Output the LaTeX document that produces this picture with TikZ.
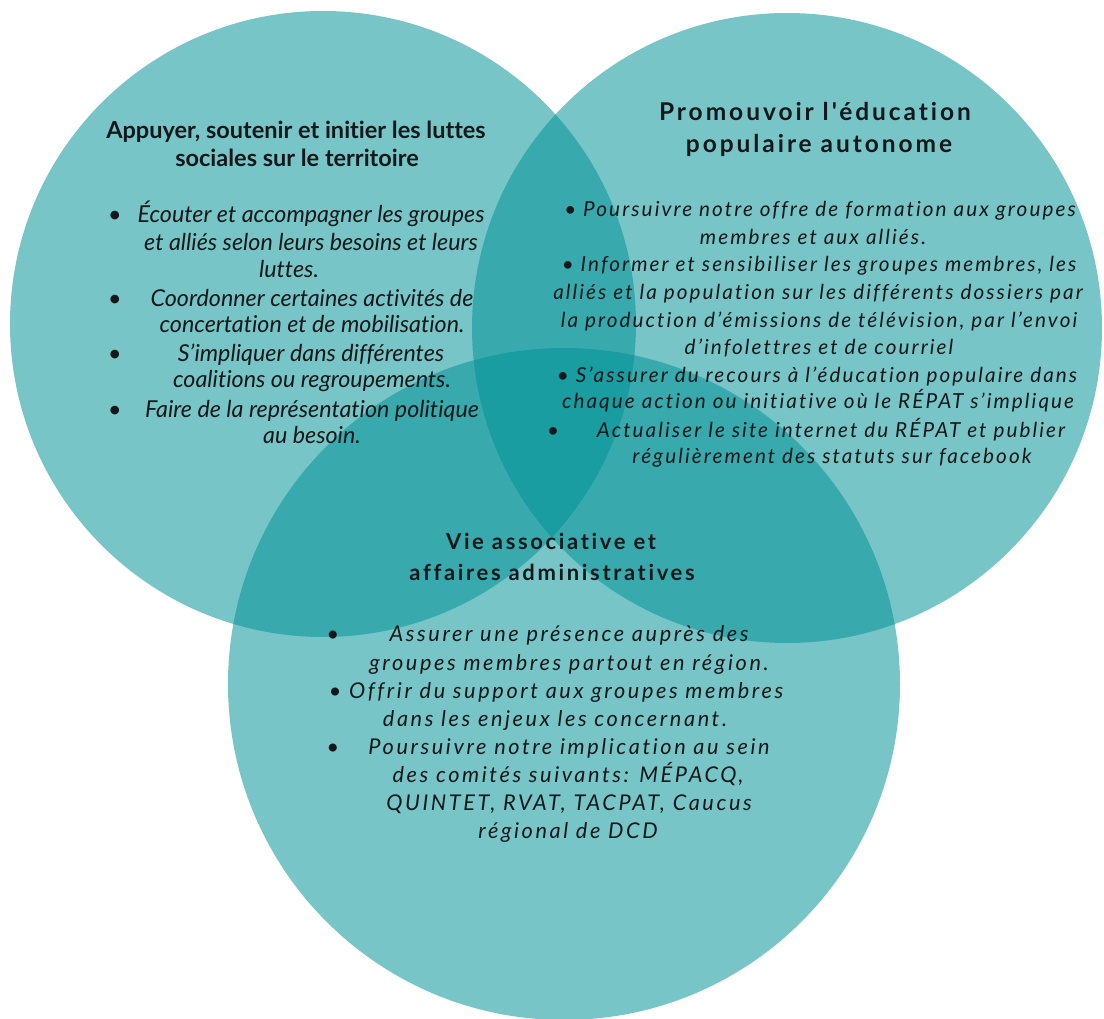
\documentclass[tikz,border=0pt]{standalone}
\usepackage{fontspec}
\setmainfont{Lato}[Ligatures=NoCommon]
\newfontfamily\latoS{Lato}[LetterSpace=12,Ligatures=NoCommon]
\newfontfamily\latoR{Lato}[LetterSpace=10,Ligatures=NoCommon]
\definecolor{tealbase}{RGB}{0,147,150}
\definecolor{inktext}{RGB}{20,24,26}
\tikzset{
  venn/.style={fill=tealbase, fill opacity=0.53},
  lhead/.style={anchor=base, inner sep=0pt, text=inktext, font=\fontsize{23.5}{28}\selectfont\bfseries},
  lbody/.style={anchor=base, inner sep=0pt, text=inktext, font=\fontsize{23.3}{28}\selectfont\itshape},
  rhead/.style={anchor=base, inner sep=0pt, text=inktext, font=\latoS\fontsize{24.5}{29}\selectfont\bfseries},
  shead/.style={anchor=base, inner sep=0pt, text=inktext, font=\latoS\fontsize{22}{26}\selectfont\bfseries},
  sbody/.style={anchor=base, inner sep=0pt, text=inktext, font=\latoR\fontsize{20.7}{25}\selectfont\itshape},
  bbody/.style={anchor=base, inner sep=0pt, text=inktext, font=\latoS\fontsize{21.7}{26}\selectfont\itshape},
}
\begin{document}
\begin{tikzpicture}[x=1pt,y=-1pt]
\fill[white] (0,0) rectangle (1104,1019);
\useasboundingbox (0,0) rectangle (1104,1019);
% circles
\fill[venn] (323,324) circle[radius=313pt];
\fill[venn] (787,328) circle[radius=315pt];
\fill[venn] (564,684) circle[radius=336pt];
% left circle
\node[lhead] (lh1) at (296,139) {Appuyer, soutenir et initier les luttes};
\node[lhead] (lh2) at (297,167) {sociales sur le territoire};
\node[lbody] (lbul1) at (115,223) {•};
\node[lbody] (lt1) at (311,223) {Écouter et accompagner les groupes};
\node[lbody] (lt2) at (311,251) {et alliés selon leurs besoins et leurs};
\node[lbody] (lt3) at (289,278) {luttes.};
\node[lbody] (lbul2) at (115,307) {•};
\node[lbody] (lt4) at (312,307) {Coordonner certaines activités de};
\node[lbody] (lt5) at (312,333) {concertation et de mobilisation.};
\node[lbody] (lbul3) at (115,362) {•};
\node[lbody] (lt6) at (311,362) {S’impliquer dans différentes};
\node[lbody] (lt7) at (312,388) {coalitions ou regroupements.};
\node[lbody] (lbul4) at (115,417) {•};
\node[lbody] (lt8) at (312,417) {Faire de la représentation politique};
\node[lbody] (lt9) at (312,443) {au besoin.};
% right circle
\node[rhead] (rh1) at (815,121) {Promouvoir l'éducation};
\node[rhead] (rh2) at (819,153) {populaire autonome};
\node[sbody] (rt1) at (820,217) {• Poursuivre notre offre de formation aux groupes};
\node[sbody] (rt2) at (813,245) {membres et aux alliés.};
\node[sbody] (rt3) at (819,272) {• Informer et sensibiliser les groupes membres, les};
\node[sbody] (rt4) at (818,300) {alliés et la population sur les différents dossiers par};
\node[sbody] (rt5) at (819,327) {la production d’émissions de télévision, par l’envoi};
\node[sbody] (rt6) at (819,355) {d’infolettres et de courriel};
\node[sbody] (rt7) at (817,382) {• S’assurer du recours à l’éducation populaire dans};
\node[sbody] (rt8) at (818,408) {chaque action ou initiative où le RÉPAT s’implique};
\node[sbody] (rbul9) at (553,437) {•};
\node[sbody] (rt9) at (831,437) {Actualiser le site internet du RÉPAT et publier};
\node[sbody] (rt10) at (832,463) {régulièrement des statuts sur facebook};
% bottom circle
\node[shead] (bh1) at (551,549) {Vie associative et};
\node[shead] (bh2) at (552,580) {affaires administratives};
\node[bbody] (bbul1) at (333,641) {•};
\node[bbody] (bt1) at (569,641) {Assurer une présence auprès des};
\node[bbody] (bt2) at (569,670) {groupes membres partout en région.};
\node[bbody] (bt3) at (556,698) {• Offrir du support aux groupes membres};
\node[bbody] (bt4) at (555,726) {dans les enjeux les concernant.};
\node[bbody] (bbul5) at (333,754) {•};
\node[bbody] (bt5) at (569,754) {Poursuivre notre implication au sein};
\node[bbody] (bt6) at (568,782) {des comités suivants: MÉPACQ,};
\node[bbody] (bt7) at (569,810) {QUINTET, RVAT, TACPAT, Caucus};
\node[bbody] (bt8) at (568,838) {régional de DCD};
\end{tikzpicture}
\end{document}
